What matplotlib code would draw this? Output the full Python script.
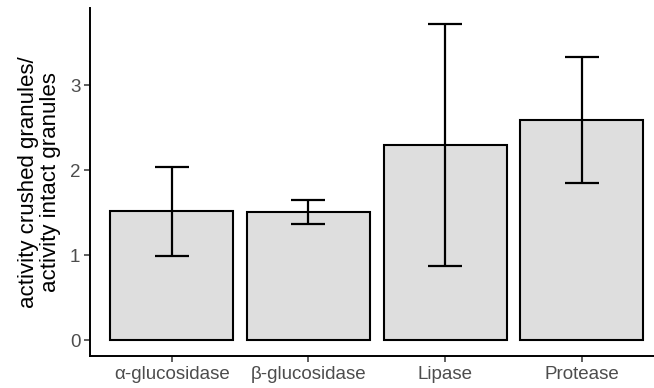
import numpy as np
import matplotlib.pyplot as plt

plt.rcParams['font.family'] = ['Liberation Sans', 'DejaVu Sans']

# Ratio of activity (crushed vs intact granules) per enzyme
enzymes = ["α-glucosidase", "β-glucosidase", "Lipase", "Protease"]
ratio = [1.52, 1.51, 2.29, 2.59]
err_low = [0.99, 1.37, 0.87, 1.85]
err_high = [2.04, 1.65, 3.72, 3.33]

x = np.arange(1, len(enzymes) + 1)

fig = plt.figure(figsize=(6.54, 3.88), dpi=100)
ax = fig.add_axes([90 / 654, 32 / 388, 1 - 90 / 654, (356 - 8) / 388])

ax.bar(x, ratio, width=0.9, color="#dedede", edgecolor="black", linewidth=1.5, zorder=2)

lower = np.array(ratio) - np.array(err_low)
upper = np.array(err_high) - np.array(ratio)
ax.errorbar(x, ratio, yerr=[lower, upper], fmt="none", ecolor="black",
            elinewidth=1.6, capsize=12.5, capthick=1.6, zorder=3)

ymax = max(err_high)
ax.set_ylim(-0.05 * ymax, ymax * 1.05)
ax.set_xlim(0.4, 4.53)

ax.set_xticks(x)
ax.set_xticklabels(enzymes)
ax.set_yticks([0, 1, 2, 3])

for side in ["top", "right"]:
    ax.spines[side].set_visible(False)
for side in ["left", "bottom"]:
    ax.spines[side].set_linewidth(1.4)
    ax.spines[side].set_color("black")

ax.tick_params(axis="both", length=4, width=1.1, color="#333333",
               labelcolor="#4d4d4d", labelsize=13.5, pad=3)

ax.set_ylabel("activity crushed granules/\nactivity intact granules",
              fontsize=16, color="black", linespacing=1.12, labelpad=6)

fig.savefig("out.png", dpi=100)
